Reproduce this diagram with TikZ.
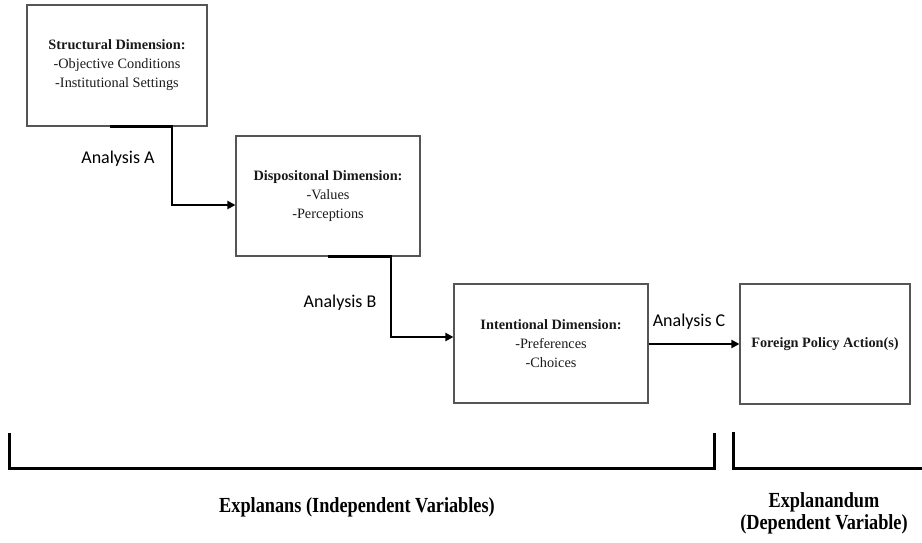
\documentclass[tikz,border=0pt]{standalone}
\usepackage{fontspec}
\setmainfont{Liberation Serif}
\newfontfamily\labelfont{Carlito}
\usetikzlibrary{arrows.meta}
\definecolor{fpaink}{HTML}{1A1A1A}
\definecolor{fpaedge}{HTML}{555555}
\tikzset{
  dimbox/.style={draw=fpaedge, line width=1.1pt, align=center, inner sep=0pt,
    text=fpaink, font=\fontsize{14.3}{19}\selectfont},
  link/.style={line width=2.4pt, -{Triangle[length=8pt,width=8pt]}},
  analysis/.style={font=\labelfont\fontsize{18}{20}\selectfont},
  brace/.style={line width=3pt, line join=miter},
  sidelabel/.style={font=\bfseries\fontsize{21.5}{22}\selectfont, align=center}
}
\begin{document}
\begin{tikzpicture}[x=1pt, y=-1pt]
  \useasboundingbox (0,0) rectangle (922,543);
  % the four dimension boxes
  \node[dimbox, minimum width=180pt, minimum height=121pt] (struct) at (117,65.5)
    {\textbf{Structural Dimension:}\\-Objective Conditions\\-Institutional Settings};
  \node[dimbox, minimum width=184pt, minimum height=120pt] (dispo) at (328,196)
    {\textbf{Dispositonal Dimension:}\\-Values\\-Perceptions};
  \node[dimbox, minimum width=194pt, minimum height=119pt] (inten) at (551,343.5)
    {\textbf{Intentional Dimension:}\\-Preferences\\-Choices};
  \node[dimbox, minimum width=170pt, minimum height=120pt] (action) at (825,344)
    {\textbf{Foreign Policy Action(s)}};

  % connectors
  \draw[link] ([xshift=-7pt]struct.south) -- ++(62,0) |- ([yshift=-9pt]dispo.west);
  \draw[link] (dispo.south) -- ++(63,0) |- ([yshift=6.5pt]inten.west);
  \draw[link] (inten.east |- action.west) -- (action.west);

  \node[analysis] (anA) at (118,159) {Analysis A};
  \node[analysis] (anB) at (340,303) {Analysis B};
  \node[analysis] (anC) at (689,322) {Analysis C};

  % brackets
  \draw[brace] (9,433) -- (9,468) -- (714,468) -- (714,433);
  \draw[brace] (733,432) -- (733,468) -- (924,468);
  \node[sidelabel] (explanans) at (357,507) {\scalebox{0.85}[1]{Explanans (Independent Variables)}};
  \node[sidelabel] (explanandum) at (824,513)
    {\scalebox{0.85}[1]{Explanandum}\\\scalebox{0.85}[1]{(Dependent Variable)}};
\end{tikzpicture}
\end{document}
